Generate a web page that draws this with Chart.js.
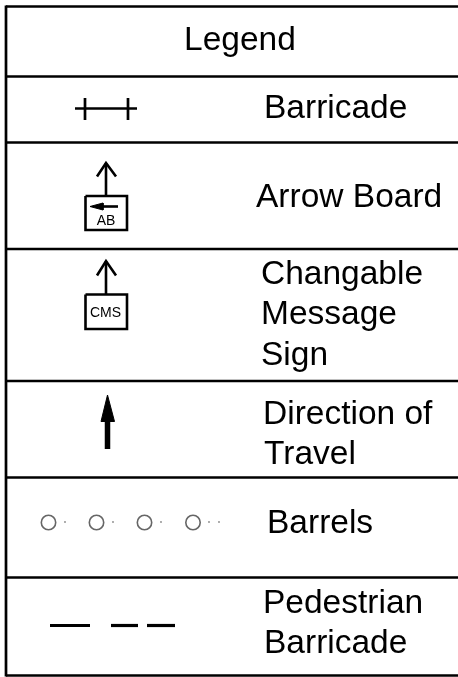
<!DOCTYPE html>
<html>
<head>
<meta charset="utf-8">
<title>Legend</title>
<script src="https://cdn.jsdelivr.net/npm/chart.js@4"></script>
<style>
  html, body { margin: 0; padding: 0; background: #fff; }
  #wrap { width: 458px; height: 677px; }
</style>
</head>
<body>
<div id="wrap"><canvas id="legendChart"></canvas></div>
<script>
const frameLines = [
  [[6, 6.5], [458, 6.5]],
  [[6, 76.5], [458, 76.5]],
  [[6, 142.5], [458, 142.5]],
  [[6, 249], [458, 249]],
  [[6, 381], [458, 381]],
  [[6, 477.5], [458, 477.5]],
  [[6, 577.5], [458, 577.5]],
  [[6, 675.5], [458, 675.5]],
  [[6, 5.5], [6, 676.5]]
];

const barricadeLines = [
  [[75, 108.5], [137, 108.5]],
  [[85, 98], [85, 120]],
  [[128, 98], [128, 120]]
];

const arrowBoardLines = [
  [[106, 163], [106, 196]],
  [[97, 176.5], [106, 163], [116, 176.5]],
  [[85.5, 196], [127, 196], [127, 230], [85.5, 230], [85.5, 196]],
  [[100, 206.5], [118, 206.5]]
];
const smallArrowHead = [[90, 206.5], [103, 203], [103, 210], [90, 206.5]];

const messageSignLines = [
  [[106, 261], [106, 294]],
  [[97, 275.5], [106, 261], [116, 275.5]],
  [[85.5, 294.5], [127, 294.5], [127, 329], [85.5, 329], [85.5, 294.5]]
];

const travelShaft = [[107.5, 420], [107.5, 449]];
const travelHead = [[107.5, 395], [114.5, 421.5], [101, 421.5], [107.5, 395]];

const barrelX = [48.5, 96.5, 144.5, 193];
const barrelY = 522.5;
const dotX = [6, 65, 113, 161, 209, 219];
const dotY = 522;

const pedestrianLines = [
  [[50, 625.5], [90, 625.5]],
  [[111, 625.5], [138, 625.5]],
  [[147, 625.5], [175, 625.5]]
];

const labelTexts = ['Legend', 'Barricade', 'Arrow Board', 'Changable', 'Message', 'Sign',
  'Direction of', 'Travel', 'Barrels', 'Pedestrian', 'Barricade'];
const labelX = [184, 264, 256, 261, 261, 261, 263, 264, 267, 263, 264];
const labelY = [50, 117.5, 206.5, 283.5, 324, 365, 423.5, 464, 533, 612.5, 652.5];
const boxTexts = ['AB', 'CMS'];
const boxTextX = [106, 105.5];
const boxTextY = [225, 316.5];

const toPoints = (pts) => pts.map(p => ({ x: p[0], y: p[1] }));

function path(pts, width, color) {
  return {
    data: toPoints(pts),
    showLine: true,
    borderColor: color || '#000',
    borderWidth: width,
    borderCapStyle: 'butt',
    pointRadius: 0,
    tension: 0
  };
}

function solid(pts) {
  return { data: toPoints(pts), showLine: true, fill: 'shape', backgroundColor: '#000', borderColor: '#000', borderWidth: 1, pointRadius: 0, tension: 0 };
}

const datasets = [];
frameLines.forEach(l => datasets.push(path(l, 2.7)));
barricadeLines.forEach(l => datasets.push(path(l, 2.7)));
arrowBoardLines.forEach(l => datasets.push(path(l, 2.6)));
datasets.push(solid(smallArrowHead));
messageSignLines.forEach(l => datasets.push(path(l, 2.6)));
datasets.push(path(travelShaft, 5.5));
datasets.push(solid(travelHead));
pedestrianLines.forEach(l => datasets.push(path(l, 3.2)));

// barrels
datasets.push({
  data: barrelX.map(x => ({ x: x, y: barrelY })),
  showLine: false,
  pointStyle: 'circle',
  pointRadius: 7.2,
  pointBorderWidth: 1.6,
  pointBorderColor: '#666',
  pointBackgroundColor: 'rgba(0,0,0,0)'
});
datasets.push({
  data: dotX.map(x => ({ x: x, y: dotY })),
  showLine: false,
  pointRadius: 0.9,
  pointBorderWidth: 0,
  pointBackgroundColor: '#888'
});

const textPlugin = {
  id: 'rowText',
  afterDatasetsDraw(chart) {
    const { ctx, scales } = chart;
    ctx.save();
    ctx.fillStyle = '#000';
    ctx.textBaseline = 'alphabetic';
    ctx.textAlign = 'left';
    ctx.font = '33.5px "Liberation Sans", Arial, sans-serif';
    labelTexts.forEach((t, i) => {
      ctx.fillText(t, scales.x.getPixelForValue(labelX[i]), scales.y.getPixelForValue(labelY[i]));
    });
    ctx.textAlign = 'center';
    ctx.font = '14px "Liberation Sans", Arial, sans-serif';
    boxTexts.forEach((t, i) => {
      ctx.fillText(t, scales.x.getPixelForValue(boxTextX[i]), scales.y.getPixelForValue(boxTextY[i]));
    });
    ctx.restore();
  }
};

new Chart(document.getElementById('legendChart'), {
  type: 'scatter',
  data: { datasets: datasets },
  options: {
    responsive: true,
    maintainAspectRatio: false,
    animation: false,
    layout: { padding: 0, autoPadding: false },
    plugins: { legend: { display: false }, tooltip: { enabled: false }, title: { display: false } },
    scales: {
      x: { type: 'linear', display: false, min: 0, max: 458 },
      y: { type: 'linear', display: false, min: 0, max: 677, reverse: true }
    }
  },
  plugins: [textPlugin]
});
</script>
</body>
</html>
